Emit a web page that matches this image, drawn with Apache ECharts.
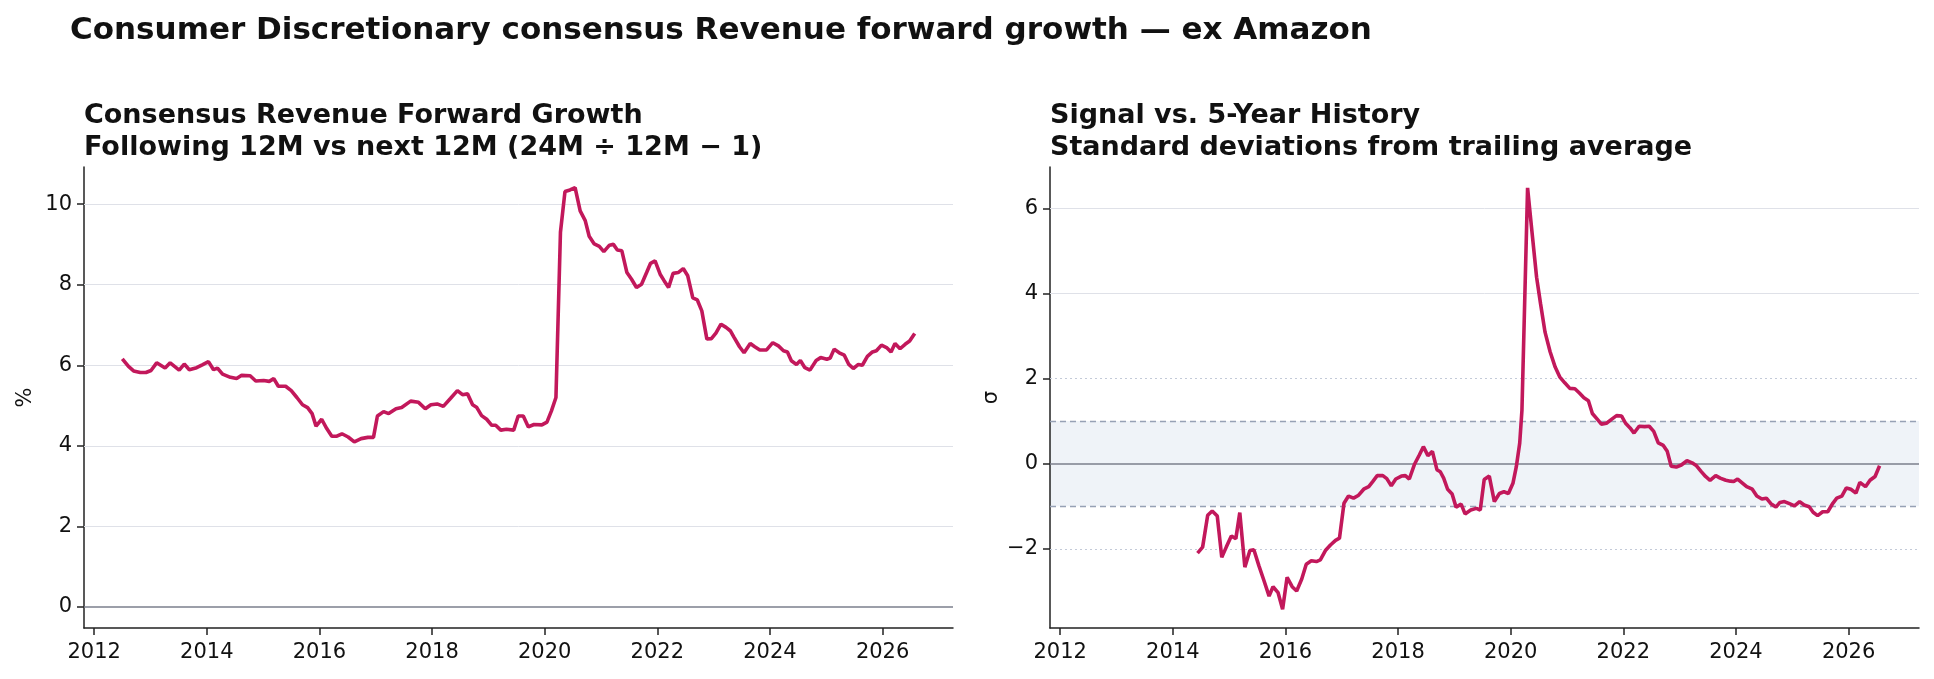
<!DOCTYPE html>
<html>
<head>
<meta charset="utf-8">
<title>Consumer Discretionary consensus Revenue forward growth</title>
<script src="https://cdn.jsdelivr.net/npm/echarts@6/dist/echarts.min.js"></script>
<style>
  html, body { margin: 0; padding: 0; background: #fff; }
  #chart { width: 1934px; height: 679px; }
</style>
</head>
<body>
<div id="chart"></div>
<script>
// forward growth (%), x in decimal years
const growthYears = [
  2012.50, 2012.61, 2012.70, 2012.82, 2012.92, 2013.01, 2013.11, 2013.26, 2013.35, 2013.51,
  2013.60, 2013.69, 2013.82, 2013.92, 2014.03, 2014.12, 2014.19, 2014.28, 2014.42, 2014.53,
  2014.62, 2014.77, 2014.87, 2015.01, 2015.11, 2015.19, 2015.27, 2015.40, 2015.50, 2015.60,
  2015.70, 2015.79, 2015.87, 2015.94, 2016.04, 2016.13, 2016.22, 2016.31, 2016.40, 2016.51,
  2016.62, 2016.74, 2016.86, 2016.96, 2017.03, 2017.14, 2017.23, 2017.36, 2017.46, 2017.62,
  2017.76, 2017.88, 2017.98, 2018.09, 2018.20, 2018.33, 2018.45, 2018.54, 2018.63, 2018.72,
  2018.79, 2018.88, 2018.97, 2019.06, 2019.13, 2019.22, 2019.32, 2019.45, 2019.53, 2019.62,
  2019.71, 2019.81, 2019.95, 2020.04, 2020.12, 2020.20, 2020.28, 2020.36, 2020.45, 2020.54,
  2020.63, 2020.72, 2020.79, 2020.88, 2020.97, 2021.05, 2021.15, 2021.22, 2021.29, 2021.37,
  2021.46, 2021.54, 2021.63, 2021.72, 2021.81, 2021.88, 2021.96, 2022.05, 2022.12, 2022.20,
  2022.28, 2022.37, 2022.46, 2022.54, 2022.63, 2022.71, 2022.79, 2022.88, 2022.96, 2023.04,
  2023.13, 2023.22, 2023.30, 2023.36, 2023.46, 2023.54, 2023.65, 2023.73, 2023.82, 2023.94,
  2024.05, 2024.15, 2024.24, 2024.31, 2024.38, 2024.47, 2024.54, 2024.62, 2024.71, 2024.82,
  2024.90, 2025.01, 2025.07, 2025.14, 2025.23, 2025.32, 2025.40, 2025.48, 2025.57, 2025.64,
  2025.73, 2025.82, 2025.89, 2025.98, 2026.07, 2026.15, 2026.22, 2026.31, 2026.40, 2026.48,
  2026.57
]
const growthValues = [
  6.16, 5.97, 5.86, 5.82, 5.82, 5.87, 6.06, 5.93, 6.06, 5.88,
  6.03, 5.89, 5.94, 6.01, 6.09, 5.89, 5.93, 5.78, 5.70, 5.67,
  5.75, 5.74, 5.61, 5.62, 5.60, 5.67, 5.48, 5.48, 5.37, 5.20,
  5.02, 4.95, 4.80, 4.49, 4.66, 4.43, 4.24, 4.24, 4.30, 4.22,
  4.10, 4.18, 4.21, 4.21, 4.74, 4.85, 4.80, 4.92, 4.95, 5.11,
  5.08, 4.92, 5.02, 5.04, 4.98, 5.18, 5.37, 5.27, 5.29, 5.02,
  4.96, 4.75, 4.66, 4.51, 4.51, 4.39, 4.41, 4.39, 4.74, 4.74,
  4.47, 4.53, 4.52, 4.59, 4.87, 5.20, 9.30, 10.31, 10.35, 10.41,
  9.83, 9.59, 9.20, 9.01, 8.95, 8.82, 8.98, 9.00, 8.86, 8.84,
  8.30, 8.14, 7.93, 8.01, 8.30, 8.53, 8.59, 8.26, 8.10, 7.93,
  8.28, 8.30, 8.40, 8.22, 7.67, 7.62, 7.35, 6.65, 6.66, 6.80,
  7.02, 6.94, 6.85, 6.70, 6.46, 6.31, 6.54, 6.46, 6.38, 6.38,
  6.56, 6.48, 6.36, 6.33, 6.11, 6.02, 6.12, 5.94, 5.88, 6.12,
  6.19, 6.15, 6.18, 6.40, 6.31, 6.25, 6.02, 5.92, 6.02, 6.00,
  6.22, 6.33, 6.36, 6.50, 6.44, 6.33, 6.54, 6.41, 6.52, 6.60,
  6.79
]

// z-score vs trailing 5y history, right panel
const zYears = [
  2014.44, 2014.53, 2014.62, 2014.70, 2014.79, 2014.87, 2014.95, 2015.04, 2015.12, 2015.19,
  2015.28, 2015.37, 2015.44, 2015.53, 2015.62, 2015.71, 2015.78, 2015.87, 2015.95, 2016.03,
  2016.12, 2016.20, 2016.29, 2016.37, 2016.46, 2016.55, 2016.62, 2016.71, 2016.80, 2016.89,
  2016.96, 2017.04, 2017.12, 2017.21, 2017.30, 2017.39, 2017.48, 2017.55, 2017.63, 2017.73,
  2017.80, 2017.88, 2017.96, 2018.06, 2018.13, 2018.20, 2018.29, 2018.38, 2018.45, 2018.53,
  2018.61, 2018.69, 2018.75, 2018.81, 2018.88, 2018.96, 2019.03, 2019.12, 2019.19, 2019.29,
  2019.39, 2019.46, 2019.53, 2019.62, 2019.71, 2019.80, 2019.88, 2019.96, 2020.04, 2020.10,
  2020.16, 2020.20, 2020.30, 2020.37, 2020.46, 2020.53, 2020.61, 2020.70, 2020.79, 2020.87,
  2020.96, 2021.05, 2021.14, 2021.22, 2021.30, 2021.38, 2021.45, 2021.54, 2021.61, 2021.70,
  2021.79, 2021.88, 2021.97, 2022.04, 2022.12, 2022.19, 2022.28, 2022.38, 2022.46, 2022.54,
  2022.62, 2022.71, 2022.78, 2022.85, 2022.94, 2023.03, 2023.13, 2023.22, 2023.30, 2023.38,
  2023.46, 2023.54, 2023.64, 2023.72, 2023.82, 2023.90, 2023.96, 2024.03, 2024.12, 2024.19,
  2024.29, 2024.37, 2024.46, 2024.54, 2024.62, 2024.71, 2024.78, 2024.86, 2024.95, 2025.04,
  2025.13, 2025.21, 2025.30, 2025.37, 2025.45, 2025.54, 2025.63, 2025.72, 2025.79, 2025.88,
  2025.96, 2026.04, 2026.13, 2026.20, 2026.30, 2026.38, 2026.47, 2026.55
]
const zValues = [
  -2.10, -1.96, -1.21, -1.11, -1.23, -2.20, -1.96, -1.70, -1.76, -1.15,
  -2.43, -2.04, -2.02, -2.40, -2.75, -3.11, -2.89, -3.03, -3.42, -2.67,
  -2.89, -2.99, -2.71, -2.36, -2.28, -2.30, -2.26, -2.04, -1.91, -1.80,
  -1.75, -0.93, -0.76, -0.81, -0.74, -0.60, -0.54, -0.42, -0.28, -0.28,
  -0.35, -0.52, -0.36, -0.29, -0.28, -0.36, -0.02, 0.21, 0.40, 0.19,
  0.29, -0.14, -0.19, -0.34, -0.60, -0.71, -1.02, -0.95, -1.18, -1.09,
  -1.05, -1.09, -0.37, -0.29, -0.89, -0.70, -0.66, -0.70, -0.46, -0.07,
  0.48, 1.26, 6.48, 5.55, 4.38, 3.76, 3.09, 2.63, 2.27, 2.04,
  1.90, 1.77, 1.76, 1.66, 1.55, 1.48, 1.18, 1.04, 0.93, 0.95,
  1.04, 1.13, 1.12, 0.95, 0.84, 0.72, 0.88, 0.87, 0.88, 0.76,
  0.49, 0.43, 0.29, -0.06, -0.08, -0.03, 0.07, 0.02, -0.05, -0.18,
  -0.30, -0.39, -0.28, -0.34, -0.39, -0.41, -0.42, -0.36, -0.46, -0.54,
  -0.60, -0.76, -0.83, -0.81, -0.94, -1.02, -0.91, -0.89, -0.94, -0.99,
  -0.89, -0.97, -1.01, -1.14, -1.22, -1.13, -1.13, -0.93, -0.81, -0.76,
  -0.57, -0.60, -0.69, -0.44, -0.54, -0.39, -0.30, -0.05
]

const xTicks = [2012, 2014, 2016, 2018, 2020, 2022, 2024, 2026]
const growthTicks = [0, 2, 4, 6, 8, 10]
const zTicks = [-2, 0, 2, 4, 6]

const FONT = 'DejaVu Sans'
const LINE = '#c2185b'
const GRID = '#dfe1e8'
const ZERO = '#7b7f8d'
const BAND = '#96a1b5'

const zip = (xs, ys) => xs.map((x, i) => [x, ys[i]])
const minus = (v) => String(v).replace('-', '\u2212')

function xAxis(gridIndex) {
  return {
    type: 'value',
    gridIndex,
    min: 2011.82,
    max: 2027.25,
    axisLine: { onZero: false, lineStyle: { color: '#222', width: 1.5 } },
    axisTick: { customValues: xTicks, length: 7, lineStyle: { color: '#222', width: 1.5 } },
    axisLabel: { customValues: xTicks, color: '#111', fontSize: 21, fontFamily: FONT, margin: 14, formatter: (v) => String(v) },
    splitLine: { show: false }
  }
}

function yAxis(gridIndex, min, max, ticks, name) {
  return {
    type: 'value',
    gridIndex,
    min,
    max,
    name,
    nameLocation: 'middle',
    nameGap: 48,
    nameTextStyle: { color: '#111', fontSize: 21, fontFamily: FONT },
    axisLine: { show: true, onZero: false, lineStyle: { color: '#222', width: 1.5 } },
    axisTick: { customValues: ticks, length: 7, lineStyle: { color: '#222', width: 1.5 } },
    axisLabel: { customValues: ticks, color: '#111', fontSize: 21, fontFamily: FONT, margin: 12, formatter: minus },
    splitLine: { show: false }
  }
}

function hline(y, color, width, type) {
  return { yAxis: y, lineStyle: { color, width, type } }
}

const chart = echarts.init(document.getElementById('chart'), null, { renderer: 'canvas' })

const option = {
  backgroundColor: '#fff',
  animation: false,
  title: [
    {
      text: 'Consumer Discretionary consensus Revenue forward growth \u2014 ex Amazon',
      left: 65,
      top: 10,
      textStyle: { fontSize: 31, fontWeight: 'bold', color: '#111', fontFamily: FONT }
    },
    {
      text: 'Consensus Revenue Forward Growth\nFollowing 12M vs next 12M (24M \u00f7 12M \u2212 1)',
      left: 79,
      top: 95,
      textStyle: { fontSize: 27, fontWeight: 'bold', color: '#111', fontFamily: FONT, lineHeight: 32 }
    },
    {
      text: 'Signal vs. 5-Year History\nStandard deviations from trailing average',
      left: 1045,
      top: 95,
      textStyle: { fontSize: 27, fontWeight: 'bold', color: '#111', fontFamily: FONT, lineHeight: 32 }
    }
  ],
  grid: [
    { left: 84, right: 981, top: 167, bottom: 51 },
    { left: 1050, right: 15, top: 167, bottom: 51 }
  ],
  xAxis: [xAxis(0), xAxis(1)],
  yAxis: [
    yAxis(0, -0.52, 10.92, growthTicks, '%'),
    yAxis(1, -3.86, 6.97, zTicks, '\u03c3')
  ],
  series: [
    // reference lines, left panel
    {
      type: 'line',
      xAxisIndex: 0,
      yAxisIndex: 0,
      data: zip(growthYears, growthValues),
      showSymbol: false,
      lineStyle: { width: 0, opacity: 0 },
      silent: true,
      z: 1,
      markLine: {
        silent: true,
        symbol: 'none',
        z: 1,
        label: { show: false },
        data: [
          hline(2, GRID, 1, 'solid'),
          hline(4, GRID, 1, 'solid'),
          hline(6, GRID, 1, 'solid'),
          hline(8, GRID, 1, 'solid'),
          hline(10, GRID, 1, 'solid'),
          hline(0, ZERO, 1.6, 'solid')
        ]
      }
    },
    {
      name: 'Forward growth',
      type: 'line',
      xAxisIndex: 0,
      yAxisIndex: 0,
      data: zip(growthYears, growthValues),
      showSymbol: false,
      lineStyle: { color: LINE, width: 3.6 },
      z: 5
    },
    // reference lines + ±1σ band, right panel
    {
      type: 'line',
      xAxisIndex: 1,
      yAxisIndex: 1,
      data: zip(zYears, zValues),
      showSymbol: false,
      lineStyle: { width: 0, opacity: 0 },
      silent: true,
      z: 1,
      markArea: {
        silent: true,
        z: 0,
        itemStyle: { color: '#eff3f8' },
        data: [[{ yAxis: -1 }, { yAxis: 1 }]]
      },
      markLine: {
        silent: true,
        symbol: 'none',
        z: 1,
        label: { show: false },
        data: [
          hline(4, GRID, 1, 'solid'),
          hline(6, GRID, 1, 'solid'),
          hline(2, '#c3cad8', 1, [2, 3]),
          hline(-2, '#c3cad8', 1, [2, 3]),
          hline(1, BAND, 1.3, [6, 4]),
          hline(-1, BAND, 1.3, [6, 4]),
          hline(0, ZERO, 1.6, 'solid')
        ]
      }
    },
    {
      name: 'Z-score',
      type: 'line',
      xAxisIndex: 1,
      yAxisIndex: 1,
      data: zip(zYears, zValues),
      showSymbol: false,
      lineStyle: { color: LINE, width: 3.6 },
      z: 5
    }
  ]
}

chart.setOption(option)
</script>
</body>
</html>
